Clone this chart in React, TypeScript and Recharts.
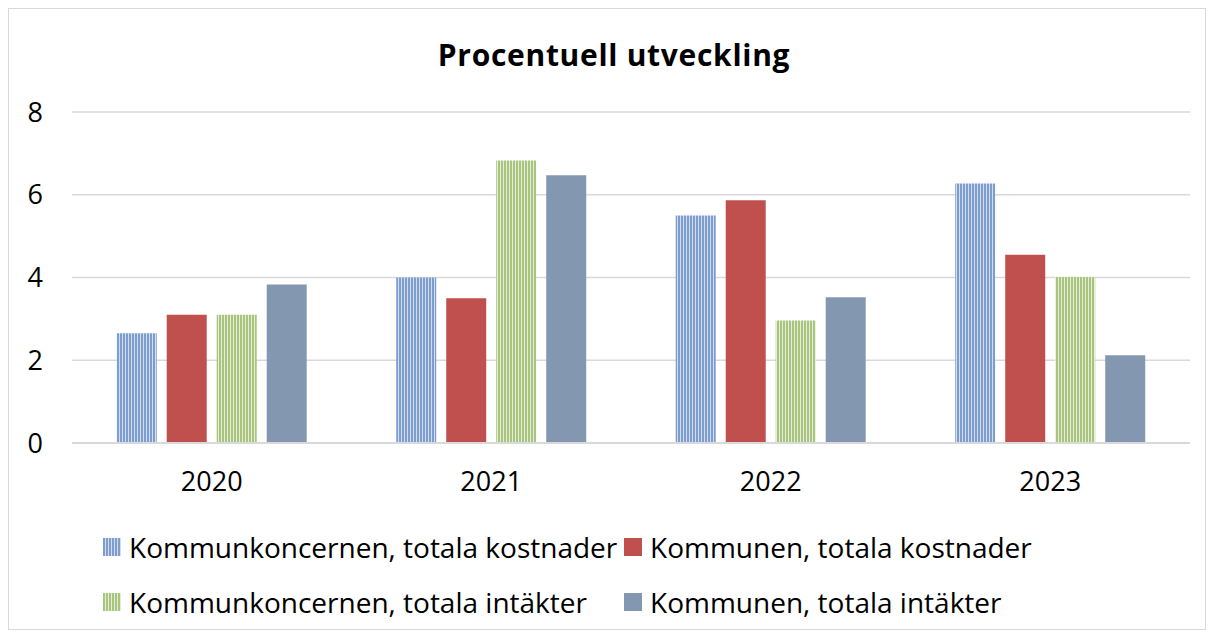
import { BarChart, Bar, XAxis, YAxis, CartesianGrid, Legend } from 'recharts';

const years = ['2020', '2021', '2022', '2023'];
const koncernKostnader = [2.65, 4.0, 5.5, 6.27];
const kommunKostnader = [3.1, 3.5, 5.87, 4.55];
const koncernIntakter = [3.1, 6.83, 2.96, 4.01];
const kommunIntakter = [3.83, 6.47, 3.52, 2.12];
const yTicks = [0, 2, 4, 6, 8];

const data = years.map((year, i) => ({
  year,
  koncernKostnader: koncernKostnader[i],
  kommunKostnader: kommunKostnader[i],
  koncernIntakter: koncernIntakter[i],
  kommunIntakter: kommunIntakter[i],
}));

const FONT = '"Open Sans", "Liberation Sans", sans-serif';

const legendItems = [
  { label: 'Kommunkoncernen, totala kostnader', swatch: 'blue' },
  { label: 'Kommunen, totala kostnader', swatch: 'red' },
  { label: 'Kommunkoncernen, totala intäkter', swatch: 'green' },
  { label: 'Kommunen, totala intäkter', swatch: 'slate' },
];

const swatchStyle = (kind: string): React.CSSProperties => {
  if (kind === 'blue')
    return { background: 'repeating-linear-gradient(90deg, #7e9dcf 0 2px, #d2ddf0 2px 3px)' };
  if (kind === 'green')
    return { background: 'repeating-linear-gradient(90deg, #a8c47e 0 2px, #e4eed6 2px 3px)' };
  if (kind === 'red') return { background: '#c0504d' };
  return { background: '#8497b0' };
};

const renderLegend = () => (
  <div style={{ position: 'relative', width: 1196, height: 110, fontFamily: FONT }}>
    {legendItems.map((item, i) => (
      <div
        key={item.label}
        style={{
          position: 'absolute',
          left: i % 2 === 0 ? 94 : 615,
          top: i < 2 ? 0 : 55,
          height: 38,
          display: 'flex',
          alignItems: 'center',
          whiteSpace: 'nowrap',
        }}
      >
        <span style={{ width: 18, height: 18, display: 'inline-block', marginRight: 8, ...swatchStyle(item.swatch) }} />
        <span style={{ fontSize: 28, color: '#000' }}>{item.label}</span>
      </div>
    ))}
  </div>
);

export default function App() {
  return (
    <div
      style={{
        position: 'relative',
        width: 1198,
        height: 622,
        border: '1px solid #d9d9d9',
        boxSizing: 'border-box',
        background: '#fff',
      }}
    >
      <div
        style={{
          position: 'absolute',
          top: 25,
          left: 7,
          width: 1196,
          textAlign: 'center',
          fontFamily: FONT,
          fontWeight: 700,
          fontSize: 30,
          letterSpacing: 0.7,
          color: '#000',
        }}
      >
        Procentuell utveckling
      </div>
      <BarChart
        width={1196}
        height={620}
        data={data}
        margin={{ top: 103, right: 15, left: 13, bottom: 126 }}
        barCategoryGap="16%"
        barGap={10}
      >
        <defs>
          <pattern id="stripeBlue" width={3} height={10} patternUnits="userSpaceOnUse">
            <rect x={0} y={0} width={3} height={10} fill="#d2ddf0" />
            <rect x={0} y={0} width={2} height={10} fill="#7e9dcf" />
          </pattern>
          <pattern id="stripeGreen" width={3} height={10} patternUnits="userSpaceOnUse">
            <rect x={0} y={0} width={3} height={10} fill="#e4eed6" />
            <rect x={0} y={0} width={2} height={10} fill="#a8c47e" />
          </pattern>
        </defs>
        <CartesianGrid vertical={false} stroke="#d9d9d9" strokeWidth={1.5} />
        <XAxis
          dataKey="year"
          height={60}
          axisLine={{ stroke: '#d9d9d9', strokeWidth: 2 }}
          tickLine={false}
          tickSize={0}
          tickMargin={29}
          tick={{ fontSize: 27, fill: '#000', fontFamily: FONT }}
        />
        <YAxis
          width={50}
          domain={[0, 8]}
          ticks={yTicks}
          axisLine={false}
          tickLine={false}
          tickSize={0}
          tickMargin={29}
          tick={{ fontSize: 27, fill: '#000', fontFamily: FONT }}
        />
        <Legend
          layout="horizontal"
          verticalAlign="middle"
          align="center"
          wrapperStyle={{ left: 0, top: 519, width: 1196 }}
          content={renderLegend}
        />
        <Bar dataKey="koncernKostnader" name={legendItems[0].label} fill="url(#stripeBlue)" isAnimationActive={false} />
        <Bar dataKey="kommunKostnader" name={legendItems[1].label} fill="#c0504d" isAnimationActive={false} />
        <Bar dataKey="koncernIntakter" name={legendItems[2].label} fill="url(#stripeGreen)" isAnimationActive={false} />
        <Bar dataKey="kommunIntakter" name={legendItems[3].label} fill="#8497b0" isAnimationActive={false} />
      </BarChart>
    </div>
  );
}
